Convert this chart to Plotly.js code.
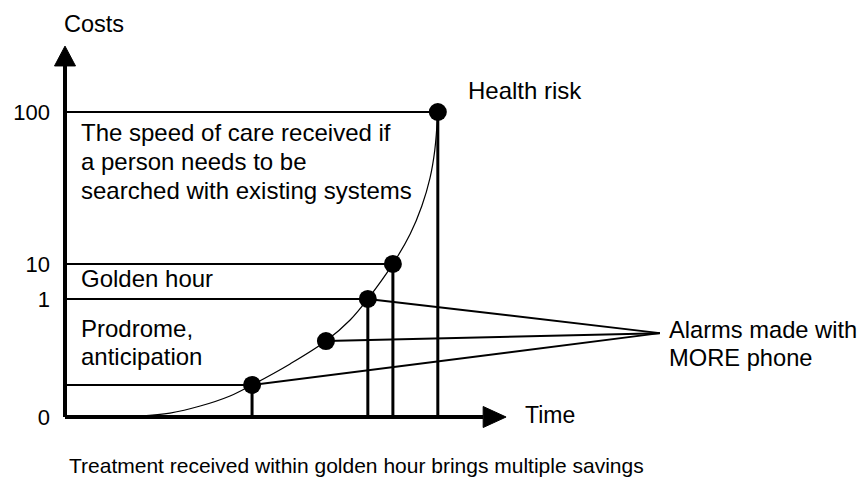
<!DOCTYPE html>
<html><head><meta charset="utf-8">
<script src="https://cdn.plot.ly/plotly-3.0.1.min.js"></script>
<style>html,body{margin:0;padding:0;background:#fff}</style>
</head><body><div id="chart" style="width:861px;height:477px"></div>
<script>
// Cost levels (schematic, non-linear scale) and their axis positions
const costTickLabels = ['0', '1', '10', '100'];
const costTickLevels = [0, 38.7, 50.2, 100];

// Key points on the health-risk curve (time units, level units)
const pointTime  = [43.3, 60.4, 70.1, 75.9, 86.3];
const pointLevel = [10.5, 24.9, 38.7, 50.2, 100];
const hasLevelLine = [true, false, true, true, true];
const hasDropLine  = [true, false, true, true, true];
const isAlarm      = [true, true, true, false, false];

// Health-risk curve
const curveTime  = [17.4, 24.3, 31.3, 38.2, 43.3, 52.1, 60.4, 66.0, 70.1, 75.9, 79.9, 82.6, 84.5, 85.6, 86.3];
const curveLevel = [0.3, 1.3, 3.6, 6.9, 10.5, 17.4, 24.9, 31.8, 38.7, 50.2, 60.0, 69.2, 78.4, 87.5, 100];

// Where the alarm connector lines meet (label anchor)
const alarmMeetTime = 137.7;
const alarmMeetLevel = 27.5;

// Text lines and their positions
const speedLines = ['The speed of care received if', 'a person needs to be', 'searched with existing systems'];
const speedLevels = [93.4, 83.9, 74.4];
const prodromeLines = ['Prodrome,', 'anticipation'];
const prodromeLevels = [28.9, 20.0];
const alarmLines = ['Alarms made with', 'MORE phone'];
const alarmLevels = [28.4, 19.3];

// Axis extents
const xAxisEnd = 102.1, xHeadLen = 5.3, xHeadHalf = 3.44;
const yAxisEnd = 121.6, yHeadLen = 6.5, yHeadHalf = 2.43;

const FONT = 'Liberation Sans, Arial, sans-serif';
const black = '#000';

const levelX = [], levelY = [], dropX = [], dropY = [], alarmX = [], alarmY = [];
pointTime.forEach((t, i) => {
  const l = pointLevel[i];
  if (hasLevelLine[i]) { levelX.push(0, t, null); levelY.push(l, l, null); }
  if (hasDropLine[i])  { dropX.push(t, t, null);  dropY.push(l, 0, null); }
  if (isAlarm[i])      { alarmX.push(t, alarmMeetTime, null); alarmY.push(l, alarmMeetLevel, null); }
});

const traces = [
  {x: curveTime, y: curveLevel, mode: 'lines', line: {color: black, width: 1.2, shape: 'spline', smoothing: 1}, hoverinfo: 'skip'},
  {x: levelX, y: levelY, mode: 'lines', line: {color: black, width: 2}, hoverinfo: 'skip'},
  {x: dropX, y: dropY, mode: 'lines', line: {color: black, width: 3}, hoverinfo: 'skip'},
  {x: alarmX, y: alarmY, mode: 'lines', line: {color: black, width: 2}, hoverinfo: 'skip'},
  {x: [0, xAxisEnd - xHeadLen], y: [0, 0], mode: 'lines', line: {color: black, width: 4}, hoverinfo: 'skip'},
  {x: [0, 0], y: [0, yAxisEnd - yHeadLen], mode: 'lines', line: {color: black, width: 4}, hoverinfo: 'skip'},
  {x: [xAxisEnd - xHeadLen, xAxisEnd, xAxisEnd - xHeadLen, xAxisEnd - xHeadLen],
   y: [xHeadHalf, 0, -xHeadHalf, xHeadHalf], mode: 'lines', fill: 'toself', fillcolor: black,
   line: {color: black, width: 1}, hoverinfo: 'skip'},
  {x: [-yHeadHalf, 0, yHeadHalf, -yHeadHalf],
   y: [yAxisEnd - yHeadLen, yAxisEnd, yAxisEnd - yHeadLen, yAxisEnd - yHeadLen], mode: 'lines', fill: 'toself', fillcolor: black,
   line: {color: black, width: 1}, hoverinfo: 'skip'},
  {x: pointTime, y: pointLevel, mode: 'markers', marker: {color: black, size: 18}, hoverinfo: 'skip'}
];

const ann = (text, x, y, size) => ({
  text, x, y, xref: 'x', yref: 'y', showarrow: false, xanchor: 'left', yanchor: 'middle', align: 'left',
  font: {family: FONT, size, color: black}
});

const annotations = [
  ann('Costs', -0.69, 128.9, 23.5),
  ann('Time', 106.0, 0.66, 23),
  ann('Health risk', 92.8, 107.2, 24),
  ann('Golden hour', 3.24, 45.4, 24),
  ann('Treatment received within golden hour brings multiple savings', 0.46, -15.9, 21)
];
speedLines.forEach((s, i) => annotations.push(ann(s, 3.24, speedLevels[i], 24)));
prodromeLines.forEach((s, i) => annotations.push(ann(s, 3.24, prodromeLevels[i], 24)));
alarmLines.forEach((s, i) => annotations.push(ann(s, 139.4, alarmLevels[i], 23.7)));

const layout = {
  width: 861, height: 477,
  margin: {l: 0, r: 0, t: 0, b: 0},
  paper_bgcolor: '#fff', plot_bgcolor: '#fff',
  showlegend: false,
  xaxis: {range: [-15.046, 184.26], showgrid: false, zeroline: false, showticklabels: false, showline: false, ticks: ''},
  yaxis: {range: [-19.67, 136.72], showgrid: false, zeroline: false, showline: false, ticks: '',
          tickvals: costTickLevels, ticktext: costTickLabels, anchor: 'free', position: 65 / 861,
          ticklabelstandoff: 15, tickfont: {family: FONT, size: 22, color: black}},
  annotations
};

Plotly.newPlot('chart', traces, layout, {displayModeBar: false, staticPlot: true});
</script>
</body></html>
